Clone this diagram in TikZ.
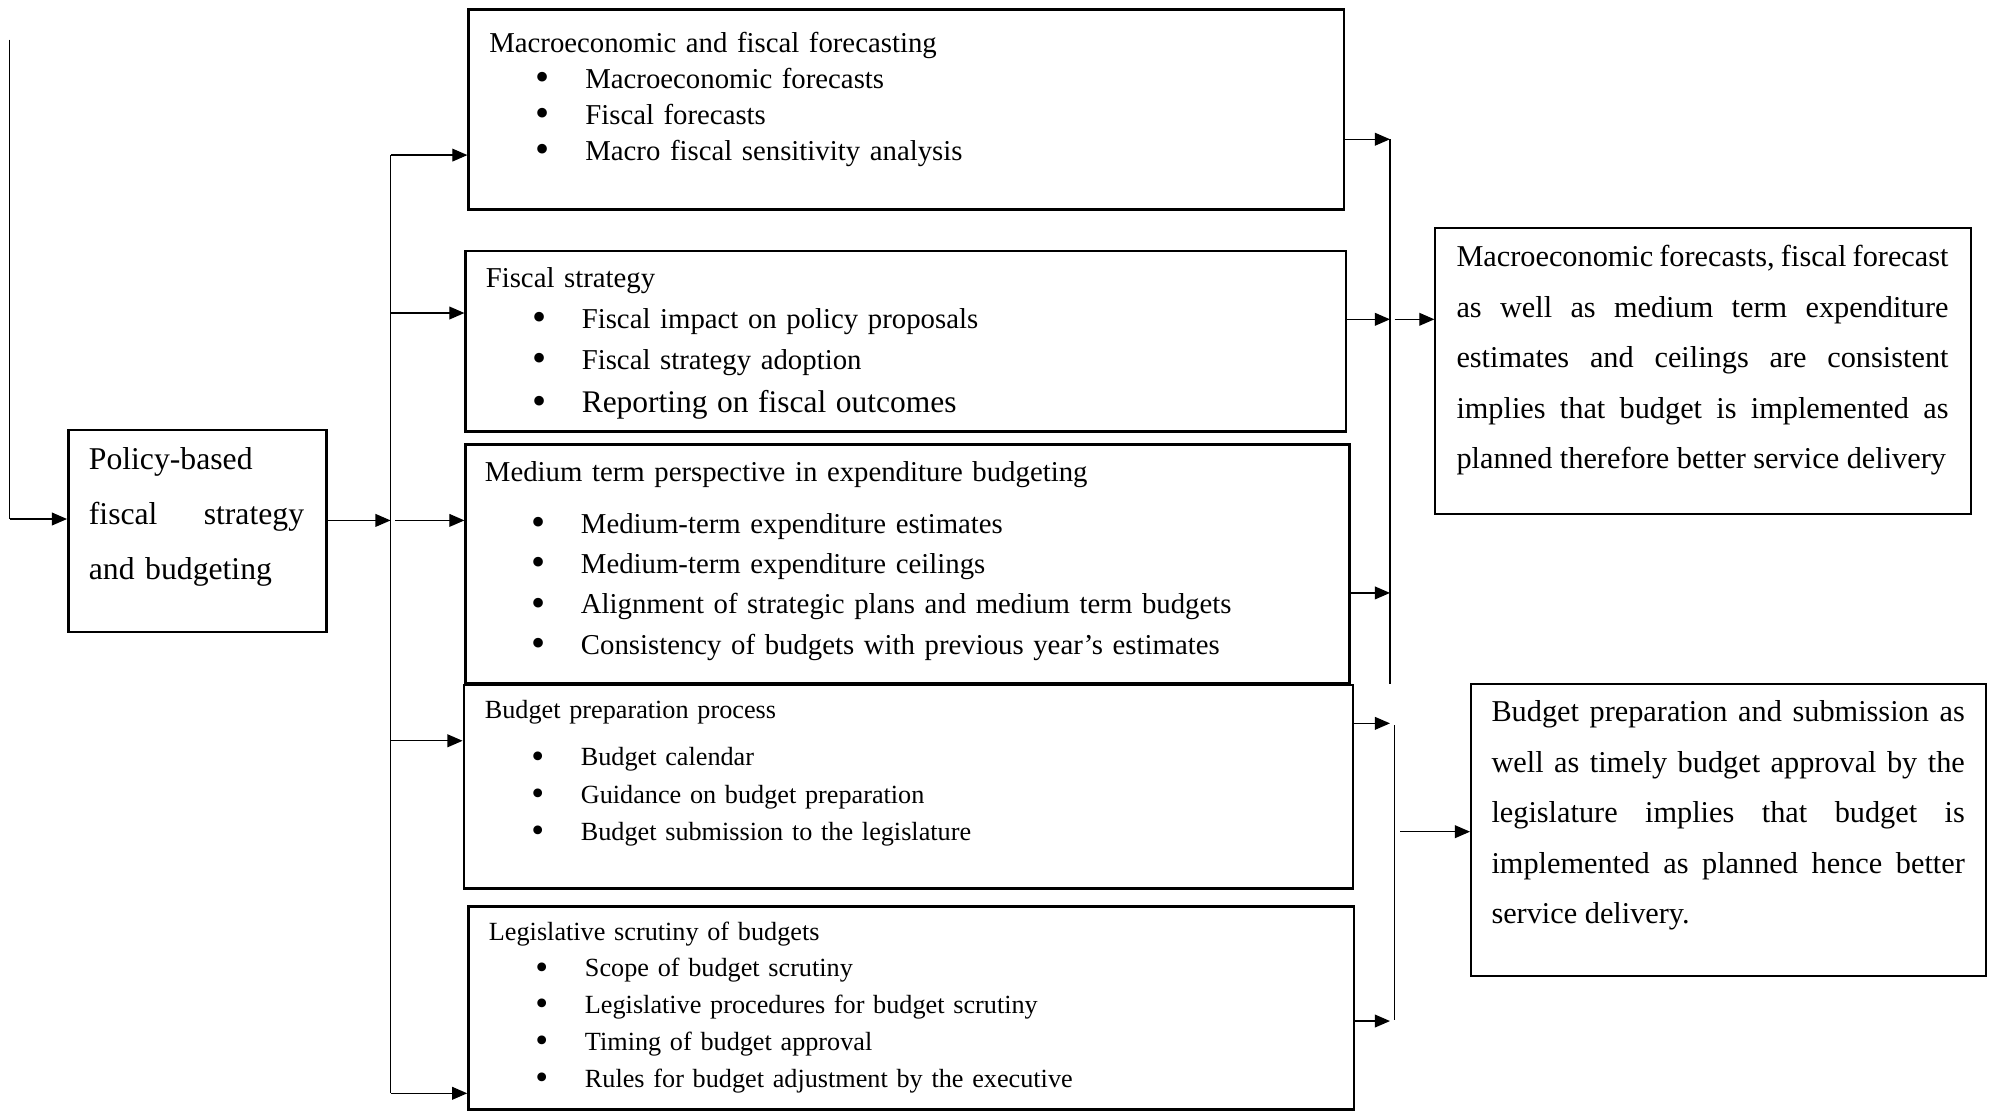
\documentclass[tikz,border=0pt]{standalone}
\usepackage{fontspec}
\setmainfont{Liberation Serif}
\usetikzlibrary{arrows.meta,calc}
\tikzset{box/.style={draw, line width=1.1pt, inner sep=0pt, anchor=north west},
  outbox/.style={draw, line width=0.75pt, inner sep=0pt, anchor=north west},
  lst/.style={anchor=base west, inner sep=0pt, align=left, text width=12cm},
  para/.style={anchor=base west, inner sep=0pt, align=justify, font=\fontsize{13}{21.7}\selectfont},
  conn/.style={line width=0.55pt},
  arr/.style={-{Triangle[length=6.5pt, width=5.5pt]}, line width=0.55pt}}
\newcommand{\itm}{\hspace*{0.70cm}\makebox[0.748cm][l]{\raisebox{-1pt}{\scalebox{1.4}{\textbullet}}}}

\begin{document}
\begin{tikzpicture}
  \useasboundingbox (0,0) rectangle (30,-16.742);
  % policy box on the left
  \node[box, minimum width=3.891cm, minimum height=3.046cm] (pol) at (1.011,-6.465) {};
  \node[anchor=base west, inner sep=0pt, text width=3.246cm, align=left, font=\fontsize{13.6}{23.66}\selectfont] (pol-txt)
    at ($(pol.north west)+(0.323,-0.615)$) {Policy-based\\ fiscal\hfill strategy\\ and budgeting};
  % middle column
  \node[box, minimum width=13.200cm, minimum height=3.016cm] (mf) at (7.050,-0.124) {};
  \node[box, minimum width=13.279cm, minimum height=2.723cm] (fs) at (7.005,-3.763) {};
  \node[box, minimum width=13.332cm, minimum height=3.605cm] (mt) at (7.005,-6.686) {};
  \node[box, minimum width=13.412cm, minimum height=3.074cm] (bp) at (6.977,-10.309) {};
  \node[box, minimum width=13.356cm, minimum height=3.067cm] (ls) at (7.047,-13.650) {};
  \node[lst, font=\fontsize{12.35}{15.5}\selectfont] (mf-txt) at ($(mf.north west)+(0.323,-0.664)$)
    {Macroeconomic and fiscal forecasting\\
     \itm Macroeconomic forecasts\\
     \itm Fiscal forecasts\\
     \itm Macro fiscal sensitivity analysis};
  \node[lst, font=\fontsize{12.35}{17.6}\selectfont] (fs-txt) at ($(fs.north west)+(0.315,-0.573)$)
    {Fiscal strategy\\
     \itm Fiscal impact on policy proposals\\
     \itm Fiscal strategy adoption\\[0.8pt]
     \itm {\fontsize{13.5}{17.6}\selectfont Reporting on fiscal outcomes}};
  \node[lst, font=\fontsize{12.35}{17.35}\selectfont] (mt-txt) at ($(mt.north west)+(0.302,-0.579)$)
    {Medium term perspective in expenditure budgeting\\[4.7pt]
     \itm Medium-term expenditure estimates\\
     \itm Medium-term expenditure ceilings\\
     \itm Alignment of strategic plans and medium term budgets\\
     \itm Consistency of budgets with previous year’s estimates};
  \node[lst, font=\fontsize{11.25}{16}\selectfont] (bp-txt) at ($(bp.north west)+(0.329,-0.525)$)
    {Budget preparation process\\[4.4pt]
     \itm Budget calendar\\
     \itm Guidance on budget preparation\\
     \itm Budget submission to the legislature};
  \node[lst, font=\fontsize{11.25}{15.8}\selectfont] (ls-txt) at ($(ls.north west)+(0.321,-0.528)$)
    {Legislative scrutiny of budgets\\
     \itm Scope of budget scrutiny\\
     \itm Legislative procedures for budget scrutiny\\
     \itm Timing of budget approval\\
     \itm Rules for budget adjustment by the executive};
  % outcome boxes on the right
  \node[outbox, minimum width=8.079cm, minimum height=4.312cm] (oa) at (21.635,-3.430) {};
  \node[para, text width=7.421cm] (oa-txt) at ($(oa.north west)+(0.326,-0.590)$)
    {Macroeconomic forecasts, fiscal forecast\linebreak
     as well as medium term expenditure\linebreak
     estimates and ceilings are consistent\linebreak
     implies that budget is implemented as\linebreak
     planned therefore better service delivery};
  \node[outbox, minimum width=7.774cm, minimum height=4.400cm] (ob) at (22.172,-10.306) {};
  \node[para, text width=7.139cm] (ob-txt) at ($(ob.north west)+(0.317,-0.579)$)
    {Budget preparation and submission as\linebreak
     well as timely budget approval by the\linebreak
     legislature implies that budget is\linebreak
     implemented as planned hence better\linebreak
     service delivery.};
  % feedback line and trunk
  \coordinate (lt) at (0.148,-0.597);
  \coordinate (lb) at (0.148,-7.828);
  \draw[conn] (lt) -- (lb);
  \draw[arr] (lb) -- (lb -| pol.west);
  \coordinate (tj) at (5.891,-7.849);
  \draw[arr] (tj -| pol.east) -- (tj);
  \coordinate (tt) at (5.891,-2.339);
  \coordinate (tb) at (5.891,-16.490);
  \draw[conn] (tt) -- (tb);
  \coordinate (t2) at (5.891,-4.721);
  \coordinate (t3) at (5.958,-7.849);
  \coordinate (t4) at (5.891,-11.173);
  \draw[arr] (tt) -- (tt -| mf.west);
  \draw[arr] (t2) -- (t2 -| fs.west);
  \draw[arr] (t3) -- (t3 -| mt.west);
  \draw[arr] (t4) -- (t4 -| bp.west);
  \draw[arr] (tb) -- (tb -| ls.west);
  % collectors
  \coordinate (ca) at (20.965,-2.100);
  \coordinate (cb) at (20.965,-10.311);
  \draw[conn] (ca) -- (cb);
  \coordinate (a2) at (20.965,-4.816);
  \coordinate (a3) at (20.965,-8.943);
  \draw[arr] (ca -| mf.east) -- (ca);
  \draw[arr] (a2 -| fs.east) -- (a2);
  \draw[arr] (a3 -| mt.east) -- (a3);
  \coordinate (ao) at (21.033,-4.816);
  \draw[arr] (ao) -- (ao -| oa.west);
  \coordinate (cc) at (21.033,-10.935);
  \coordinate (cd) at (21.033,-15.385);
  \draw[conn] (cc) -- (cd);
  \coordinate (b4) at (20.965,-10.910);
  \coordinate (b5) at (20.965,-15.400);
  \draw[arr] (b4 -| bp.east) -- (b4);
  \draw[arr] (b5 -| ls.east) -- (b5);
  \coordinate (bo) at (21.120,-12.544);
  \draw[arr] (bo) -- (bo -| ob.west);
\end{tikzpicture}
\end{document}
